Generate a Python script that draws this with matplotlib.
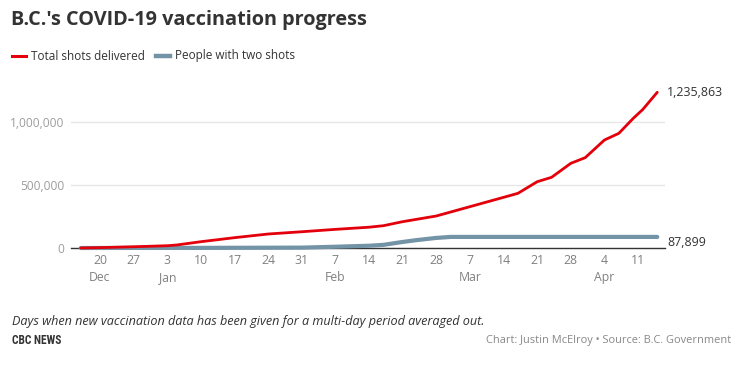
import matplotlib
matplotlib.use("Agg")
import matplotlib.pyplot as plt
from matplotlib.lines import Line2D
import datetime as dt

# ---- data ----
total_dates = ["2020-12-16", "2020-12-20", "2020-12-27", "2021-01-03", "2021-01-05", "2021-01-10",
               "2021-01-17", "2021-01-24", "2021-01-31", "2021-02-07", "2021-02-14", "2021-02-17",
               "2021-02-21", "2021-02-28", "2021-03-07", "2021-03-14", "2021-03-17", "2021-03-21",
               "2021-03-24", "2021-03-28", "2021-03-31", "2021-04-04", "2021-04-07", "2021-04-10",
               "2021-04-12", "2021-04-15"]
total_values = [0, 3000, 10000, 18000, 24000, 50000, 82000, 111000, 129000, 148000, 165000, 177000,
                209000, 254000, 328000, 402000, 434000, 526000, 561000, 672000, 717000, 857000,
                910000, 1029000, 1100000, 1235863]

second_dates = ["2020-12-16", "2021-01-10", "2021-01-31", "2021-02-07", "2021-02-14", "2021-02-17",
                "2021-02-21", "2021-02-24", "2021-02-28", "2021-03-03", "2021-04-15"]
second_values = [0, 1000, 3000, 10000, 18000, 25000, 48000, 63000, 80000, 87899, 87899]

yticks = [0, 500000, 1000000]
ytick_labels = ["0", "500,000", "1,000,000"]
xtick_dates = ["2020-12-20", "2020-12-27", "2021-01-03", "2021-01-10", "2021-01-17", "2021-01-24",
               "2021-01-31", "2021-02-07", "2021-02-14", "2021-02-21", "2021-02-28", "2021-03-07",
               "2021-03-14", "2021-03-21", "2021-03-28", "2021-04-04", "2021-04-11"]
xtick_labels = ["20\nDec", "27", "3\nJan", "10", "17", "24", "31", "7\nFeb", "14", "21", "28",
                "7\nMar", "14", "21", "28", "4\nApr", "11"]

title = "B.C.'s COVID-19 vaccination progress"
series_names = ["Total shots delivered", "People with two shots"]
note = "Days when new vaccination data has been given for a multi-day period averaged out."
credit = "Chart: Justin McElroy \u2022 Source: B.C. Government"

# ---- styling ----
RED = "#e3000b"
BLUE = "#7393a7"
plt.rcParams["font.family"] = ["Open Sans", "DejaVu Sans"]

W, H = 749, 369
fig = plt.figure(figsize=(W / 100, H / 100), dpi=100)

def fx(px):
    return px / W

def fy(py):
    return 1 - py / H

ax_left, ax_right = 71, 665
y0_px = 248
ymax = 1250000
top_px = y0_px - ymax * 63 / 500000
ax = fig.add_axes([fx(ax_left), fy(y0_px), fx(ax_right - ax_left), (y0_px - top_px) / H])

to_d = lambda s: dt.datetime.strptime(s, "%Y-%m-%d")
td = [to_d(s) for s in total_dates]
sd = [to_d(s) for s in second_dates]

ax.plot(sd, second_values, color=BLUE, lw=3.0, solid_capstyle="round", clip_on=False, zorder=3)
ax.plot(td, total_values, color=RED, lw=2.0, solid_capstyle="round", clip_on=False, zorder=4)

# x range: Dec 20 at px 100, 4.804 px/day
ref = to_d("2020-12-20")
ppd = 4.804
xmin = ref - dt.timedelta(days=(100 - ax_left) / ppd)
xmax = ref + dt.timedelta(days=(ax_right - 100) / ppd)
ax.set_xlim(xmin, xmax)
ax.set_ylim(0, ymax)

for s in ["top", "right", "left"]:
    ax.spines[s].set_visible(False)
ax.spines["bottom"].set_color("#333333")
ax.spines["bottom"].set_linewidth(1.0)
ax.spines["bottom"].set_zorder(2)

ax.set_yticks(yticks)
ax.set_yticklabels(ytick_labels)
ax.set_xticks([to_d(s) for s in xtick_dates])
ax.set_xticklabels(xtick_labels, linespacing=1.45)
ax.tick_params(axis="y", length=0, pad=4.5, labelsize=8.6, labelcolor="#9d9d9d")
ax.tick_params(axis="x", length=0, pad=4, labelsize=8.8, labelcolor="#808080")
for lab in ax.get_xticklabels():
    lab.set_verticalalignment("top")
ax.grid(axis="y", color="#e6e6e6", lw=1.0)
ax.set_axisbelow(True)

# end labels
ax.annotate("1,235,863", xy=(1, total_values[-1]), xycoords=("axes fraction", "data"),
            xytext=(1.5, 0), textcoords="offset points", va="center", ha="left",
            fontsize=8.9, color="#333333", annotation_clip=False)
ax.annotate("87,899", xy=(1, second_values[-1]), xycoords=("axes fraction", "data"),
            xytext=(1.5, -4), textcoords="offset points", va="center", ha="left",
            fontsize=8.9, color="#333333", annotation_clip=False)

# title
fig.text(fx(11), fy(20), title, fontsize=14.3, fontweight="bold", color="#333333",
         va="center", ha="left")

# legend
fig.add_artist(Line2D([fx(12), fx(26)], [fy(56), fy(56)], color=RED, lw=2.2))
fig.text(fx(31), fy(56), series_names[0], fontsize=8.5, color="#333333", va="center", ha="left")
fig.add_artist(Line2D([fx(156), fx(170)], [fy(56), fy(56)], color=BLUE, lw=3.2))
fig.text(fx(175), fy(56), series_names[1], fontsize=8.5, color="#333333", va="center", ha="left")

# footer
fig.text(fx(12), fy(321), note, fontsize=9.1, style="italic", color="#333333", va="center", ha="left")
fig.text(fx(12), fy(341), "CBC NEWS", fontsize=8.3, fontweight="bold", color="#333333",
         va="center", ha="left", family=["Roboto Condensed", "Roboto", "DejaVu Sans"])
fig.text(fx(731), fy(341), credit, fontsize=7.9, color="#888888", va="center", ha="right")

fig.savefig("out.png", dpi=100, facecolor="white")
